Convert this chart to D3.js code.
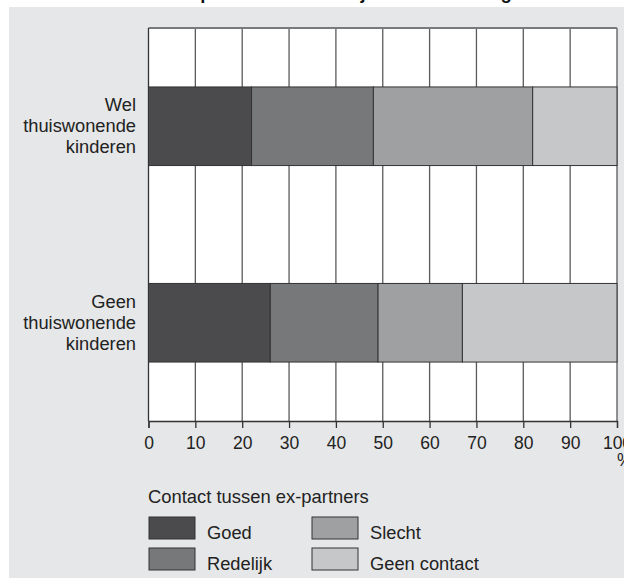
<!DOCTYPE html>
<html><head><meta charset="utf-8">
<script src="https://cdn.jsdelivr.net/npm/d3@7"></script>
<style>body{margin:0;background:#fff;} svg{display:block;font-family:"Liberation Sans",Arial,sans-serif;}</style>
</head><body>
<svg id="c" width="624" height="578"></svg>
<script>
const categories = [["Wel","thuiswonende","kinderen"],["Geen","thuiswonende","kinderen"]];
const categoryKeys = ["Wel","Geen"];
const seriesNames = ["Goed","Redelijk","Slecht","Geen contact"];
const goed = [22, 26];
const redelijk = [26, 23];
const slecht = [34, 18];
const geenContact = [18, 33];
const tickValues = [0,10,20,30,40,50,60,70,80,90,100];
const colors = ["#4b4b4d","#77787a","#9fa0a2","#c6c7c9"];
const titleText = "en contact tussen ex-partners in eerste jaar na scheiding";
const legendTitle = "Contact tussen ex-partners";

const svg = d3.select("#c");
svg.append("rect").attr("x",9).attr("y",7).attr("width",615).attr("height",571).attr("fill","#e6e7e8");
svg.append("text").attr("x",11).attr("y",-0.8).attr("font-size",18.5).attr("font-weight","bold").attr("fill","#111").text(titleText);

const L=148.5, R=617, T=28, B=421;
const x = d3.scaleLinear().domain([0,100]).range([L,R]);
const y = d3.scaleBand().domain(categoryKeys).range([T,B]).paddingInner(0.6).paddingOuter(0.3);

svg.append("rect").attr("x",L).attr("y",T).attr("width",R-L).attr("height",B-T).attr("fill","#fff");
svg.append("g").selectAll("line").data(tickValues.slice(1)).join("line")
  .attr("x1",d=>x(d)).attr("x2",d=>x(d)).attr("y1",T).attr("y2",B)
  .attr("stroke","#5a5a5a").attr("stroke-width",1.3);
svg.append("line").attr("x1",L).attr("x2",R).attr("y1",T).attr("y2",T).attr("stroke","#7a7a7a").attr("stroke-width",2);
svg.append("line").attr("x1",L).attr("x2",L).attr("y1",T).attr("y2",B).attr("stroke","#333").attr("stroke-width",1.3);

const table = categoryKeys.map((k,i)=>({key:k, Goed:goed[i], Redelijk:redelijk[i], Slecht:slecht[i], "Geen contact":geenContact[i]}));
const stack = d3.stack().keys(seriesNames)(table);
svg.append("g").selectAll("g").data(stack).join("g").attr("fill",(d,i)=>colors[i])
  .selectAll("rect").data(d=>d).join("rect")
  .attr("x",d=>x(d[0])).attr("width",d=>x(d[1])-x(d[0]))
  .attr("y",d=>y(d.data.key)).attr("height",y.bandwidth())
  .attr("stroke","#333").attr("stroke-width",1);

const ax = svg.append("g").attr("transform",`translate(0,${B})`)
  .call(d3.axisBottom(x).tickValues(tickValues).tickSize(7).tickPadding(9).tickFormat(d3.format("d")));
ax.select(".domain").attr("stroke","#333").attr("stroke-width",1.3);
ax.selectAll(".tick line").attr("stroke","#333").attr("stroke-width",1.3);
ax.selectAll(".tick text").attr("font-size",17.5).attr("fill","#222").attr("font-family","Liberation Sans, Arial, sans-serif");
svg.append("text").attr("x",x(100)).attr("y",466).attr("font-size",17.5).attr("fill","#222").text("%");

categories.forEach((lines,i)=>{
  const cy = y(categoryKeys[i]) + y.bandwidth()/2;
  const t = svg.append("text").attr("text-anchor","end").attr("font-size",18.3).attr("fill","#222");
  lines.forEach((ln,j)=>{
    t.append("tspan").attr("x",136).attr("y",cy + (j-1)*21 + 6).text(ln);
  });
});

svg.append("text").attr("x",148).attr("y",503).attr("font-size",18.4).attr("fill","#222").text(legendTitle);
const lg = [[149,517],[149,548],[312,517],[312,548]];
seriesNames.forEach((s,i)=>{
  const [lx,ly]=lg[i];
  svg.append("rect").attr("x",lx).attr("y",ly).attr("width",46).attr("height",22).attr("fill",colors[i]).attr("stroke","#333").attr("stroke-width",1);
  svg.append("text").attr("x",lx+58).attr("y",ly+22).attr("font-size",18.3).attr("fill","#222").text(s);
});
</script>
</body></html>
